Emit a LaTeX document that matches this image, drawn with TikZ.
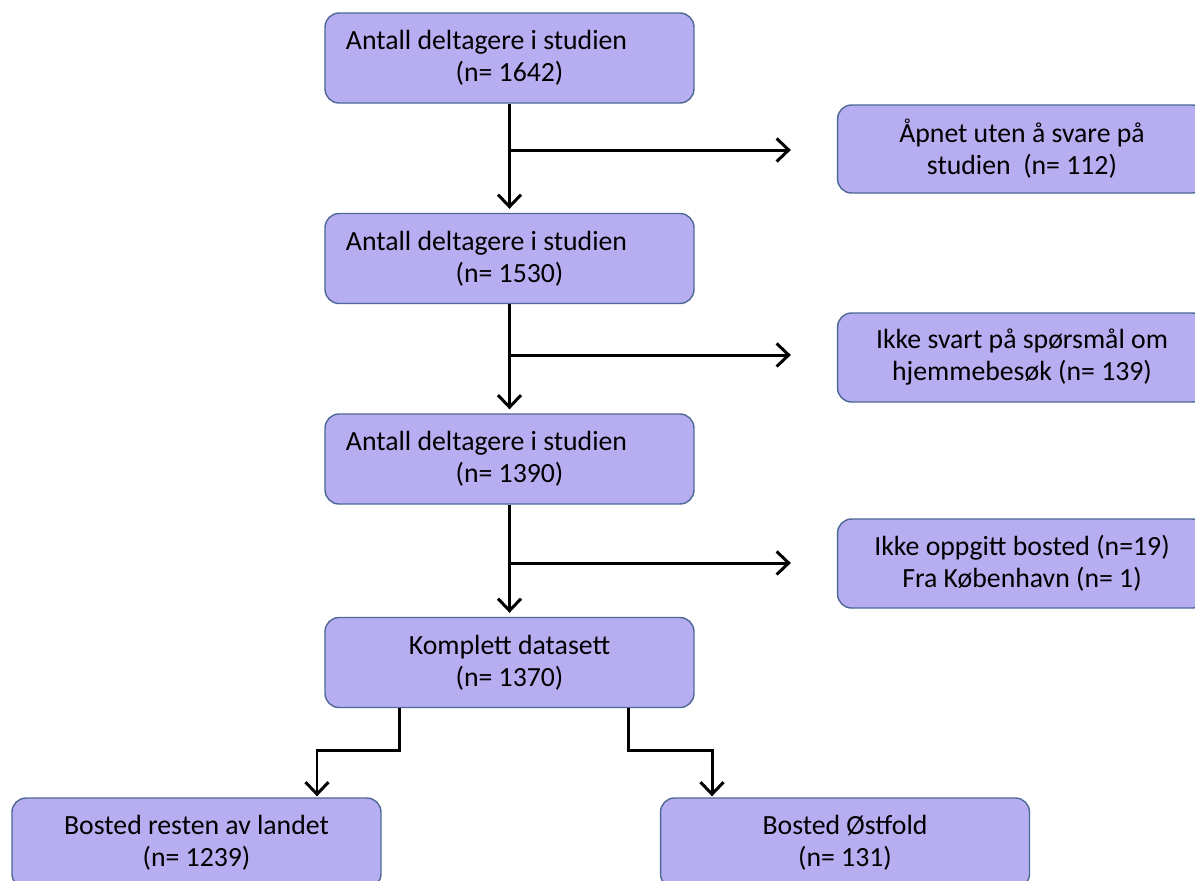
\documentclass[tikz,border=0pt]{standalone}
\usepackage{fontspec}
\setmainfont{Carlito}
\usetikzlibrary{arrows.meta}
\definecolor{boksfyll}{RGB}{183,174,242}
\definecolor{bokskant}{RGB}{78,104,150}
\begin{document}
\begin{tikzpicture}[x=0.02cm, y=-0.02cm]
\tikzset{boks/.style={draw=bokskant, fill=boksfyll, line width=0.8pt, rounded corners=0.28cm, minimum width=7.38cm, minimum height=1.8cm, align=center, font=\fontsize{15.8}{18.2}\selectfont, text=black}}
\tikzset{pil/.style={line width=1.7pt, -{Straight Barb[length=0.24cm, width=0.46cm, line width=1.7pt]}}}
\useasboundingbox (0,0) rectangle (1195,880);
\clip (0,0) rectangle (1195,880);
\fill[white] (0,0) rectangle (1195,880);
\node[boks] (B1) at (509.5,58) {Antall deltagere i studien\hspace*{0.92cm}\null\\(n= 1642)};
\node[boks] (B2) at (509.5,258.5) {Antall deltagere i studien\hspace*{0.92cm}\null\\(n= 1530)};
\node[boks] (B3) at (509.5,459) {Antall deltagere i studien\hspace*{0.92cm}\null\\(n= 1390)};
\node[boks] (B4) at (509.5,662.5) {Komplett datasett\\(n= 1370)};
\node[boks, minimum height=1.76cm] (S1) at (1022,149) {Åpnet uten å svare på\\studien~~(n= 112)};
\node[boks, minimum height=1.78cm] (S2) at (1022,357.5) {Ikke svart på spørsmål om\\hjemmebesøk (n= 139)};
\node[boks, minimum height=1.78cm] (S3) at (1022,563.5) {Ikke oppgitt bosted (n=19)\\Fra København (n= 1)};
\node[boks] (L) at (196.5,843) {Bosted resten av landet\\(n= 1239)};
\node[boks] (R) at (845,843) {Bosted Østfold\\(n= 131)};
\coordinate (j1) at (510,150);
\coordinate (j2) at (510,355);
\coordinate (j3) at (510,563);
\draw[pil, shorten >=0.08cm] (B1.south) -- (B2.north);
\draw[pil, shorten >=0.08cm] (B2.south) -- (B3.north);
\draw[pil, shorten >=0.08cm] (B3.south) -- (B4.north);
\draw[pil, shorten >=0.92cm] (j1) -- (j1 -| S1.west);
\draw[pil, shorten >=0.92cm] (j2) -- (j2 -| S2.west);
\draw[pil, shorten >=0.92cm] (j3) -- (j3 -| S3.west);
\coordinate (k1) at (399,750);
\coordinate (k2) at (317,750);
\coordinate (k3) at (628,750);
\coordinate (k4) at (712,750);
\draw[pil, shorten >=0.02cm] (B4.south -| k1) -- (k1) -- (k2) -- (L.north -| k2);
\draw[pil, shorten >=0.02cm] (B4.south -| k3) -- (k3) -- (k4) -- (R.north -| k4);
\end{tikzpicture}
\end{document}
